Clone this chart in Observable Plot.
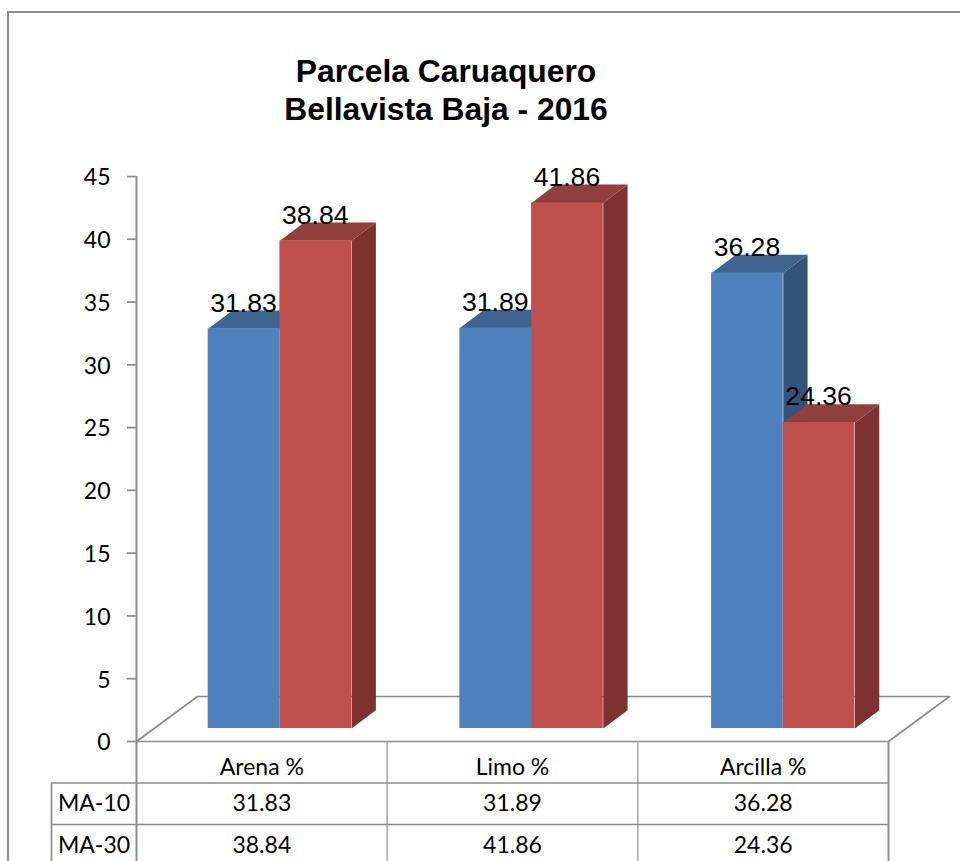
<!DOCTYPE html>
<html>
<head>
<meta charset="utf-8">
<script src="https://cdn.jsdelivr.net/npm/d3@7"></script>
<script src="https://cdn.jsdelivr.net/npm/@observablehq/plot@0.6"></script>
<style>
  html, body { margin: 0; padding: 0; background: #fff; overflow: hidden; }
  #page { position: relative; width: 960px; height: 861px; overflow: hidden; }
  #edge { position: absolute; left: 7px; top: 11px; right: -4px; bottom: -4px;
          border-left: 2px solid #8c8c8c; border-top: 2px solid #8c8c8c; }
  #title { position: absolute; left: 196px; width: 500px; top: 52px; text-align: center;
           font: bold 31.8px/38px "Liberation Sans", Arial, sans-serif; color: #000; }
  #chart { position: absolute; left: 0; top: 0; }
</style>
</head>
<body>
<div id="page">
  <div id="edge"></div>
  <div id="chart"></div>
  <div id="title">Parcela Caruaquero<br>Bellavista Baja - 2016</div>
</div>
<script>
// ---- data ----
const categories = ["Arena %", "Limo %", "Arcilla %"];
const seriesNames = ["MA-10", "MA-30"];
const ma10 = [31.83, 31.89, 36.28];
const ma30 = [38.84, 41.86, 24.36];
const yTicks = [0, 5, 10, 15, 20, 25, 30, 35, 40, 45];

// ---- styling / layout ----
const frontColors = ["#4F81BD", "#C0504D"];
const topColors = ["#3F648F", "#913F3C"];
const sideColors = ["#345378", "#7D322F"];
const gray = "#8c8c8c";
const pxPerX = 752 / 3, pxPerY = 565 / 45;
const barStart = 0.286, barWidth = 0.286, barStep = 251.7 / pxPerX;
const barLift = -13;                      // bars stand in front of the wall plane
const barDepthX = 24.3 / pxPerX, barDepthY = 18.3 / pxPerY;
const floorDepthX = 61 / pxPerX, floorDepthY = 45 / pxPerY;
const below = px => -px / pxPerY;         // table rows, in y units under the axis
const labelCol = -85 / pxPerX;
const rowLines = [41.5, 83];
const tableBottom = 125;
const body = "Lato, Carlito, sans-serif";
const arial = '"Liberation Sans", Arial, sans-serif';

// ---- marks built from the arrays ----
const floor = [
  {x: 0, y: 0},
  {x: floorDepthX, y: floorDepthY},
  {x: 3 + floorDepthX, y: floorDepthY},
  {x: 3, y: 0},
  {x: 0, y: 0}
];

const columns = [ma10, ma30];
const barMarks = columns.flatMap((values, s) => {
  const bars = values.map((v, i) => ({
    id: i, v,
    x1: i * barStep + barStart + s * barWidth,
    x2: i * barStep + barStart + (s + 1) * barWidth
  }));
  const topFace = bars.flatMap(b => [
    {id: b.id, x: b.x1, y: b.v},
    {id: b.id, x: b.x1 + barDepthX, y: b.v + barDepthY},
    {id: b.id, x: b.x2 + barDepthX, y: b.v + barDepthY},
    {id: b.id, x: b.x2, y: b.v}
  ]);
  const sideFace = bars.flatMap(b => [
    {id: b.id, x: b.x2, y: 0},
    {id: b.id, x: b.x2 + barDepthX, y: barDepthY},
    {id: b.id, x: b.x2 + barDepthX, y: b.v + barDepthY},
    {id: b.id, x: b.x2, y: b.v}
  ]);
  return [
    Plot.line(sideFace, {x: "x", y: "y", z: "id", fill: sideColors[s], stroke: "none", dy: barLift}),
    Plot.line(topFace, {x: "x", y: "y", z: "id", fill: topColors[s], stroke: "none", dy: barLift}),
    Plot.rect(bars, {x1: "x1", x2: "x2", y1: () => 0, y2: "v", fill: frontColors[s], dy: barLift})
  ];
});

const labelRows = columns.flatMap((values, s) => values.map((v, i) => ({
  v, x: i * barStep + barStart + (s + 0.5) * barWidth
})));

const tableRows = [
  ...categories.map((c, i) => ({x: i + 0.5, row: 26, t: c})),
  ...ma10.map((v, i) => ({x: i + 0.5, row: 62.5, t: v.toFixed(2)})),
  ...ma30.map((v, i) => ({x: i + 0.5, row: 104, t: v.toFixed(2)})),
  {x: labelCol / 2, row: 62.5, t: seriesNames[0]},
  {x: labelCol / 2, row: 104, t: seriesNames[1]}
];

const chart = Plot.plot({
  width: 960,
  height: 861,
  marginLeft: 136,
  marginRight: 72,
  marginTop: 176,
  marginBottom: 120,
  style: {background: "transparent", overflow: "visible"},
  x: {domain: [0, 3], axis: null},
  y: {domain: [0, 45], axis: null},
  marks: [
    // floor of the 3-D box
    Plot.line(floor, {x: "x", y: "y", stroke: gray, strokeWidth: 1.7}),
    // value axis: tick marks, then labels nudged to the reference baseline
    Plot.axisY({
      ticks: yTicks, tickSize: 9, text: null, stroke: gray, strokeWidth: 1.7, label: null
    }),
    Plot.axisY({
      ticks: yTicks, tickSize: 0, tickPadding: 26, dy: 1.5,
      fill: "#000", fontSize: 23, fontFamily: body, label: null, marginLeft: 136
    }),
    // table grid; the axis line runs down through the table
    Plot.ruleX([0], {y1: below(tableBottom), y2: 45, stroke: gray, strokeWidth: 2}),
    Plot.ruleX([1, 2], {y1: below(0), y2: below(tableBottom), stroke: "#a6a6a6", strokeWidth: 1.5}),
    Plot.ruleX([3], {y1: 0, y2: below(tableBottom), stroke: gray, strokeWidth: 2}),
    Plot.ruleX([labelCol], {y1: below(rowLines[0]), y2: below(tableBottom), stroke: gray, strokeWidth: 1.7}),
    Plot.ruleY(rowLines.map(below), {x1: labelCol, x2: 3, stroke: gray, strokeWidth: 1.7}),
    // bars
    ...barMarks,
    // data labels
    Plot.text(labelRows, {
      x: "x", y: d => d.v + barDepthY, text: d => d.v.toFixed(2), dx: -0.5, dy: barLift + 1,
      lineAnchor: "bottom", fontSize: 26.6, fontFamily: arial, fill: "#000"
    }),
    // table text
    Plot.text(tableRows, {
      x: "x", y: d => below(d.row), text: "t",
      fontSize: 23, fontFamily: body, fill: "#000"
    })
  ]
});
document.getElementById("chart").appendChild(chart);
</script>
</body>
</html>
